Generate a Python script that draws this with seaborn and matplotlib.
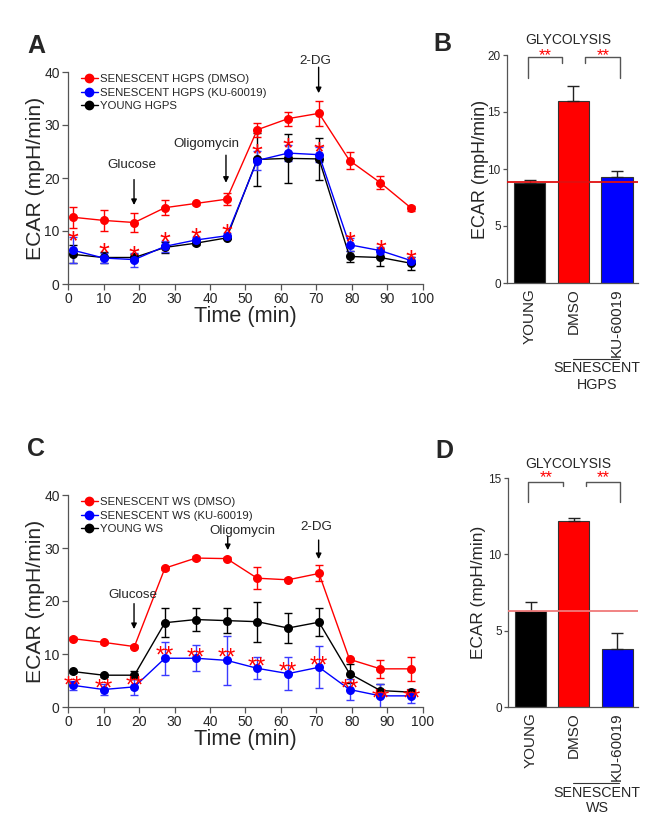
import numpy as np
import pandas as pd
import matplotlib
matplotlib.use("Agg")
import matplotlib.pyplot as plt
import seaborn as sns
from matplotlib.lines import Line2D
from matplotlib import transforms

# ---------------- data ----------------
time_min = [1.3, 10, 18.7, 27.3, 36, 44.7, 53.3, 62, 70.7, 79.3, 88, 96.7]

a_labels = ["SENESCENT HGPS (DMSO)", "SENESCENT HGPS (KU-60019)", "YOUNG HGPS"]
a_dmso = [12.6, 12.0, 11.6, 14.4, 15.2, 16.0, 29.1, 31.2, 32.2, 23.3, 19.1, 14.3]
a_dmso_err = [2.0, 2.0, 1.8, 1.4, 0.3, 1.1, 1.3, 1.3, 2.4, 1.6, 1.2, 0.5]
a_ku = [6.4, 4.9, 4.6, 7.1, 8.3, 9.1, 23.3, 24.7, 24.4, 7.4, 6.3, 4.4]
a_ku_err = [2.4, 1.0, 1.3, 1.0, 0.6, 0.5, 1.8, 1.5, 1.4, 1.2, 0.6, 0.6]
a_young = [5.6, 5.0, 5.0, 6.9, 7.7, 8.7, 23.5, 23.7, 23.6, 5.2, 5.0, 3.9]
a_young_err = [1.7, 1.0, 0.7, 1.0, 0.4, 0.3, 5.0, 4.6, 4.0, 1.0, 1.6, 1.2]
a_star_y = [9.4, 7.2, 6.7, 9.2, 10.0, 10.7, 25.9, 27.0, 26.2, 9.2, 7.7, 5.9]

c_labels = ["SENESCENT WS (DMSO)", "SENESCENT WS (KU-60019)", "YOUNG WS"]
c_dmso = [12.9, 12.2, 11.4, 26.2, 28.1, 28.0, 24.3, 24.0, 25.2, 9.0, 7.2, 7.2]
c_dmso_err = [0.3, 0.3, 0.3, 0.3, 0.3, 0.3, 2.1, 0.3, 1.5, 0.3, 1.7, 2.3]
c_ku = [4.1, 3.3, 3.8, 9.2, 9.2, 8.8, 7.3, 6.3, 7.5, 3.3, 2.1, 2.1]
c_ku_err = [0.8, 1.1, 1.5, 3.1, 2.5, 4.6, 2.1, 3.1, 4.0, 1.9, 2.2, 1.3]
c_young = [6.7, 6.0, 6.0, 15.9, 16.5, 16.3, 16.1, 14.9, 16.0, 6.3, 3.1, 2.8]
c_young_err = [0.3, 0.3, 0.7, 2.7, 2.1, 2.4, 3.8, 2.9, 2.6, 1.8, 1.2, 0.5]
c_star_y = [5.2, 4.7, 5.2, 10.9, 10.5, 10.4, 8.7, 7.9, 8.9, 4.6, 2.7, 2.7]

a_events = [("Glucose", 18.0, 22.45, 18.6, 19.7, 14.9),
            ("Oligomycin", 39.1, 26.4, 44.5, 24.3, 19.1),
            ("2-DG", 69.6, 42.1, 70.6, 40.9, 36.0)]
c_events = [("Glucose", 18.2, 21.1, 18.6, 19.5, 14.7),
            ("Oligomycin", 49.2, 33.3, 45.0, 32.1, 29.6),
            ("2-DG", 70.0, 33.9, 70.6, 31.5, 27.9)]

bar_groups = ["YOUNG", "DMSO", "KU-60019"]
b_vals = [8.8, 16.0, 9.3]
b_err = [0.2, 1.3, 0.5]
b_ref = 8.85
d_vals = [6.3, 12.2, 3.8]
d_err = [0.55, 0.2, 1.05]
d_ref = 6.3

RED, BLUE, BLACK = "#ff0000", "#0000ff", "#000000"
SPINE = "#555555"

sns.set_style("ticks")
plt.rcParams["font.family"] = ["Liberation Sans", "DejaVu Sans"]

W, H = 658, 830
fig = plt.figure(figsize=(W / 100, H / 100), dpi=100)


def px_axes(left, top, right, bottom):
    return fig.add_axes([left / W, 1 - bottom / H, (right - left) / W, (bottom - top) / H])


def style_axes(ax, tick_fs, tick_len=4, pad=2):
    for s in ["top", "right"]:
        ax.spines[s].set_visible(False)
    for s in ["left", "bottom"]:
        ax.spines[s].set_color(SPINE)
        ax.spines[s].set_linewidth(0.9)
    ax.tick_params(axis="both", direction="out", length=tick_len, width=0.9,
                   color=SPINE, labelsize=tick_fs, pad=pad)


def line_panel(ax, labels, dmso, dmso_e, ku, ku_e, young, young_e, star_y, star_txt, star_fs, events):
    df = pd.DataFrame({
        "time": time_min * 3,
        "ecar": young + ku + dmso,
        "group": [labels[2]] * 12 + [labels[1]] * 12 + [labels[0]] * 12,
    })
    pal = {labels[0]: RED, labels[1]: BLUE, labels[2]: BLACK}
    for lab, vals, errs, col in [(labels[2], young, young_e, BLACK),
                                 (labels[1], ku, ku_e, "#3a3aff"),
                                 (labels[0], dmso, dmso_e, RED)]:
        ax.errorbar(time_min, vals, yerr=errs, fmt="none", ecolor=col,
                    elinewidth=1.0, capsize=3.2, capthick=1.0, zorder=2)
    sns.lineplot(data=df, x="time", y="ecar", hue="group",
                 hue_order=[labels[2], labels[1], labels[0]], palette=pal,
                 marker="o", markersize=6.5, markeredgewidth=0, linewidth=1.0,
                 legend=False, ax=ax, zorder=3, estimator=None)
    ax.set_xlim(0, 100)
    ax.set_ylim(0, 40)
    ax.set_xticks(range(0, 101, 10))
    ax.set_yticks(range(0, 41, 10))
    style_axes(ax, 10)
    ax.set_xlabel("Time (min)", fontsize=15.6)
    ax.set_ylabel("ECAR (mpH/min)", fontsize=15.2)
    ax.xaxis.set_label_coords(0.5, -0.105)
    ax.yaxis.set_label_coords(-0.064, 0.5)
    handles = [Line2D([], [], color=c, marker="o", markersize=6, lw=1.0)
               for c in (RED, BLUE, BLACK)]
    ax.legend(handles, labels, loc="upper left", bbox_to_anchor=(0.036, 0.99),
              frameon=False, fontsize=8.2, handlelength=1.5, handletextpad=0.2,
              labelspacing=0.3, borderpad=0, borderaxespad=0)
    off = transforms.offset_copy(ax.transData, fig=fig, y=-0.55 * star_fs, units="points")
    for x, y in zip(time_min, star_y):
        ax.text(x, y, star_txt, color=RED, fontsize=star_fs, ha="center",
                va="baseline", transform=off, zorder=5)
    for txt, tx, ty, axx, y0, y1 in events:
        ax.text(tx, ty, txt, fontsize=9.6, ha="center", va="center", clip_on=False)
        ax.annotate("", xy=(axx, y1), xytext=(axx, y0),
                    arrowprops=dict(arrowstyle="-|>", color="black", lw=1.0,
                                    mutation_scale=8, shrinkA=0, shrinkB=0),
                    annotation_clip=False)


def bar_panel(ax, vals, errs, ref, ref_color, ymax, yticks, ylabel_fs,
              brk_top, brk_long, brk_short, star_y, star_x):
    sns.barplot(x=bar_groups, y=vals, hue=bar_groups, palette=[BLACK, RED, BLUE],
                saturation=1, legend=False, width=0.72, edgecolor="#333333",
                linewidth=0.8, ax=ax, zorder=2)
    ax.errorbar(range(3), vals, yerr=[[0, 0, 0], errs], fmt="none",
                ecolor="#222222", elinewidth=1.0, capsize=4, capthick=1.0, zorder=3)
    ax.axhline(ref, color=ref_color, lw=1.3, zorder=4)
    ax.set_xlim(-0.52, 2.48)
    ax.set_ylim(0, ymax)
    ax.set_yticks(yticks)
    style_axes(ax, 8.5, tick_len=3, pad=1.5)
    ax.tick_params(axis="x", length=0, labelsize=11, rotation=90, pad=4)
    ax.set_xlabel("")
    ax.set_ylabel("ECAR (mpH/min)", fontsize=ylabel_fs)
    # significance brackets
    bc = "#555555"
    ax.plot([-0.05, -0.05, 0.75, 0.75], [brk_long, brk_top, brk_top, brk_short],
            color=bc, lw=1.0, clip_on=False)
    ax.plot([1.27, 1.27, 2.07, 2.07], [brk_short, brk_top, brk_top, brk_long],
            color=bc, lw=1.0, clip_on=False)
    for sx in star_x:
        ax.text(sx, star_y, "**", color=RED, fontsize=12, ha="center",
                va="center", clip_on=False)


# ---------------- panel A ----------------
axA = px_axes(68, 72, 423, 284)
line_panel(axA, a_labels, a_dmso, a_dmso_err, a_ku, a_ku_err, a_young, a_young_err,
           a_star_y, "*", 20, a_events)

# ---------------- panel C ----------------
axC = px_axes(68, 495, 423, 707)
line_panel(axC, c_labels, c_dmso, c_dmso_err, c_ku, c_ku_err, c_young, c_young_err,
           c_star_y, "**", 17, c_events)

# ---------------- panel B ----------------
axB = px_axes(507, 55, 638, 283)
bar_panel(axB, b_vals, b_err, b_ref, "#e01010", 20, [0, 5, 10, 15, 20], 13,
          19.8, 18.0, 19.3, 19.95, [0.36, 1.68])
axB.yaxis.set_label_coords(-0.14, 0.5)
fig.text(568 / W, 1 - 40 / H, "GLYCOLYSIS", fontsize=10, ha="center", va="center")

# ---------------- panel D ----------------
axD = px_axes(508, 478, 638, 707)
bar_panel(axD, d_vals, d_err, d_ref, "#f07a7a", 15, [0, 5, 10, 15], 12.4,
          14.74, 13.4, 14.45, 15.05, [0.36, 1.68])
axD.yaxis.set_label_coords(-0.17, 0.5)
fig.text(568 / W, 1 - 464 / H, "GLYCOLYSIS", fontsize=10, ha="center", va="center")

# group labels under bar panels
for ly, t1y, t2, t2y in [(359, 368, "HGPS", 385), (783, 793, "WS", 808)]:
    fig.add_artist(Line2D([573 / W, 619 / W], [1 - ly / H, 1 - ly / H],
                          color="#333333", lw=0.8))
    fig.text(597 / W, 1 - t1y / H, "SENESCENT", fontsize=10.3, ha="center", va="center")
    fig.text(597 / W, 1 - t2y / H, t2, fontsize=10.3, ha="center", va="center")

# panel letters
for lab, x, y in [("A", 27, 46), ("B", 433, 44), ("C", 27, 449), ("D", 435, 451)]:
    fig.text(x / W, 1 - y / H, lab, fontsize=18, fontweight="bold",
             ha="left", va="center")

fig.savefig("out.png", dpi=100)
